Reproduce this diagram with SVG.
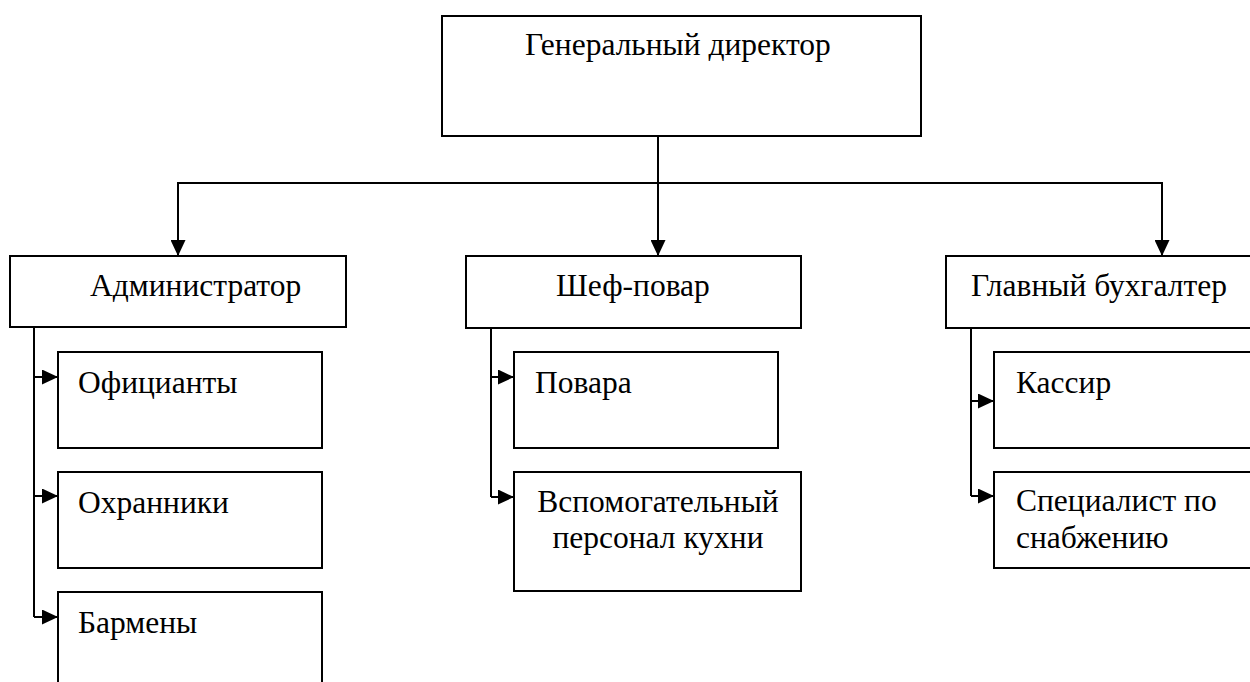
<svg xmlns="http://www.w3.org/2000/svg" width="1250" height="682" viewBox="0 0 1250 682">
<defs>
<style>
.box{fill:#fff;stroke:#000;stroke-width:2}
.c{fill:none;stroke:#000;stroke-width:2}
</style>
<marker id="ah" viewBox="0 0 16 15" markerUnits="userSpaceOnUse" markerWidth="16" markerHeight="15" refX="16" refY="7.5" orient="auto">
<path d="M0,0 L16,7.5 L0,15 Z" fill="#000"/>
</marker>
</defs>
<rect width="1250" height="682" fill="#fff"/>
<g id="connectors">
<line class="c" x1="658" y1="136" x2="658" y2="256" marker-end="url(#ah)"/>
<polyline class="c" points="178,256 178,183 1162,183 1162,256"/>
<line class="c" x1="178" y1="200" x2="178" y2="256" marker-end="url(#ah)"/>
<line class="c" x1="1162" y1="200" x2="1162" y2="256" marker-end="url(#ah)"/>
<polyline class="c" points="34,327 34,617"/>
<polyline class="c" points="34,377 58,377" marker-end="url(#ah)"/>
<polyline class="c" points="34,496 58,496" marker-end="url(#ah)"/>
<polyline class="c" points="34,617 58,617" marker-end="url(#ah)"/>
<polyline class="c" points="491,328 491,497"/>
<polyline class="c" points="491,377 514,377" marker-end="url(#ah)"/>
<polyline class="c" points="491,497 514,497" marker-end="url(#ah)"/>
<polyline class="c" points="971,328 971,496"/>
<polyline class="c" points="971,401 994,401" marker-end="url(#ah)"/>
<polyline class="c" points="971,496 994,496" marker-end="url(#ah)"/>
</g>
<g font-family="Liberation Serif, serif" font-size="31.5" fill="#000">
<g id="n-gendir"><rect class="box" x="442" y="16" width="479" height="120"/><text x="525" y="55">Генеральный директор</text></g>
<g id="n-admin"><rect class="box" x="10" y="256" width="336" height="71"/><text x="90" y="296">Администратор</text></g>
<g id="n-chef"><rect class="box" x="466" y="256" width="335" height="72"/><text x="556" y="296">Шеф-повар</text></g>
<g id="n-glav"><rect class="box" x="946" y="256" width="320" height="72"/><text x="971" y="296">Главный бухгалтер</text></g>
<g id="n-ofic"><rect class="box" x="58" y="352" width="264" height="96"/><text x="78" y="393">Официанты</text></g>
<g id="n-okhr"><rect class="box" x="58" y="472" width="264" height="96"/><text x="78" y="513">Охранники</text></g>
<g id="n-barm"><rect class="box" x="58" y="592" width="264" height="120"/><text x="78" y="633">Бармены</text></g>
<g id="n-povara"><rect class="box" x="514" y="352" width="264" height="96"/><text x="535" y="393">Повара</text></g>
<g id="n-vspom"><rect class="box" x="514" y="472" width="287" height="119"/><text x="658" y="512" text-anchor="middle">Вспомогательный</text><text x="658" y="548" text-anchor="middle">персонал кухни</text></g>
<g id="n-kassir"><rect class="box" x="994" y="352" width="272" height="96"/><text x="1016" y="393">Кассир</text></g>
<g id="n-spec"><rect class="box" x="994" y="472" width="272" height="96"/><text x="1016" y="511">Специалист по</text><text x="1016" y="548">снабжению</text></g>
</g>
</svg>
